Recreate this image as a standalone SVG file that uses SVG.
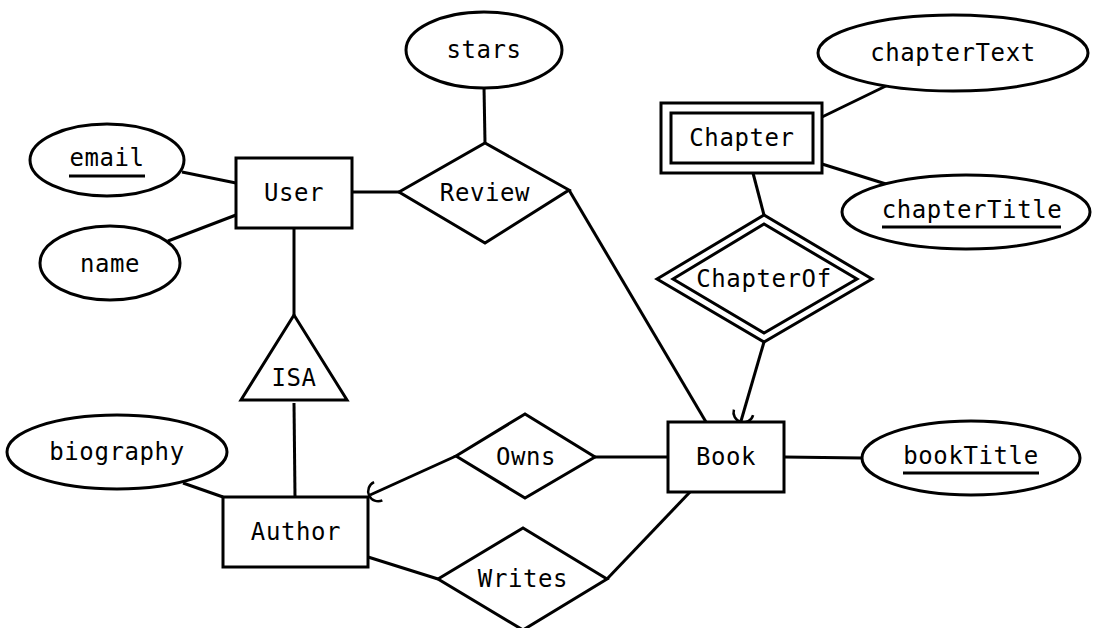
<svg xmlns="http://www.w3.org/2000/svg" width="1104" height="628" viewBox="0 0 1104 628">
<style>
.s{fill:#fff;stroke:#000;stroke-width:3}
.l{fill:none;stroke:#000;stroke-width:3}
text{font-family:"DejaVu Sans Mono",monospace;font-size:24px;letter-spacing:0.6px;fill:#000;text-anchor:middle;dominant-baseline:central}
.u{stroke:#000;stroke-width:3}
</style>
<defs>
<marker id="arc" viewBox="-14 -14 28 28" markerWidth="28" markerHeight="28" refX="0" refY="0" markerUnits="userSpaceOnUse" orient="auto">
<path d="M-9,-10 A10,10 0 0 1 -9,10" fill="none" stroke="#000" stroke-width="2.5"/>
</marker>
</defs>
<rect width="1104" height="628" fill="#fff"/>
<g id="connectors">
<line class="l" x1="484" y1="87" x2="485" y2="143"/>
<line class="l" x1="182" y1="172" x2="236" y2="183"/>
<line class="l" x1="168" y1="241" x2="236" y2="215"/>
<line class="l" x1="352" y1="192" x2="399" y2="192"/>
<line class="l" x1="569" y1="190" x2="706" y2="422"/>
<line class="l" x1="294" y1="228" x2="294" y2="315"/>
<line class="l" x1="294" y1="403" x2="295" y2="497"/>
<line class="l" x1="183" y1="483" x2="223" y2="497"/>
<line class="l" x1="456" y1="456" x2="370" y2="495" marker-end="url(#arc)"/>
<line class="l" x1="595" y1="457" x2="668" y2="457"/>
<line class="l" x1="368" y1="557" x2="438" y2="579"/>
<line class="l" x1="607" y1="579" x2="690" y2="492"/>
<line class="l" x1="784" y1="457" x2="862" y2="458"/>
<line class="l" x1="822" y1="117" x2="890" y2="84"/>
<line class="l" x1="822" y1="164" x2="886" y2="184"/>
<line class="l" x1="753" y1="173" x2="764" y2="215"/>
<line class="l" x1="764" y1="342" x2="741" y2="421" marker-end="url(#arc)"/>
</g>
<g id="stars"><ellipse class="s" cx="484" cy="50" rx="78" ry="38"/><text x="484" y="50">stars</text></g>
<g id="email"><ellipse class="s" cx="107" cy="160" rx="77" ry="36"/><text x="107" y="158">email</text><line class="u" x1="69" y1="176" x2="145" y2="176"/></g>
<g id="name"><ellipse class="s" cx="110" cy="263" rx="70" ry="37"/><text x="110" y="264">name</text></g>
<g id="chapterText"><ellipse class="s" cx="953" cy="53" rx="135" ry="38"/><text x="953" y="53">chapterText</text></g>
<g id="chapterTitle"><ellipse class="s" cx="966" cy="212" rx="124" ry="37"/><text x="972" y="210">chapterTitle</text><line class="u" x1="882" y1="227" x2="1061" y2="227"/></g>
<g id="biography"><ellipse class="s" cx="117" cy="452" rx="110" ry="37"/><text x="117" y="452">biography</text></g>
<g id="bookTitle"><ellipse class="s" cx="971" cy="458" rx="109" ry="37"/><text x="971" y="456">bookTitle</text><line class="u" x1="903" y1="473" x2="1039" y2="473"/></g>
<g id="User"><rect class="s" x="236" y="158" width="116" height="70"/><text x="294" y="193">User</text></g>
<g id="Chapter"><rect class="s" x="661" y="103" width="161" height="70"/><rect class="s" x="671" y="113" width="142" height="50"/><text x="742" y="138">Chapter</text></g>
<g id="Book"><rect class="s" x="668" y="422" width="116" height="70"/><text x="726" y="457">Book</text></g>
<g id="Author"><rect class="s" x="223" y="497" width="145" height="70"/><text x="296" y="532">Author</text></g>
<g id="Review"><polygon class="s" points="399,192 485,143 569,190 485,243"/><text x="485" y="193">Review</text></g>
<g id="Owns"><polygon class="s" points="456,456 525,414 595,457 525,498"/><text x="526" y="457">Owns</text></g>
<g id="Writes"><polygon class="s" points="438,579 523,528 607,579 523,630"/><text x="523" y="579">Writes</text></g>
<g id="ChapterOf"><polygon class="s" points="657,279 764,215 872,279 764,342"/><polygon class="s" points="673,279 764,224 857,279 764,333"/><text x="764" y="279">ChapterOf</text></g>
<g id="ISA"><polygon class="s" points="294,315 241,400 347,400"/><text x="294" y="378">ISA</text></g>
</svg>
